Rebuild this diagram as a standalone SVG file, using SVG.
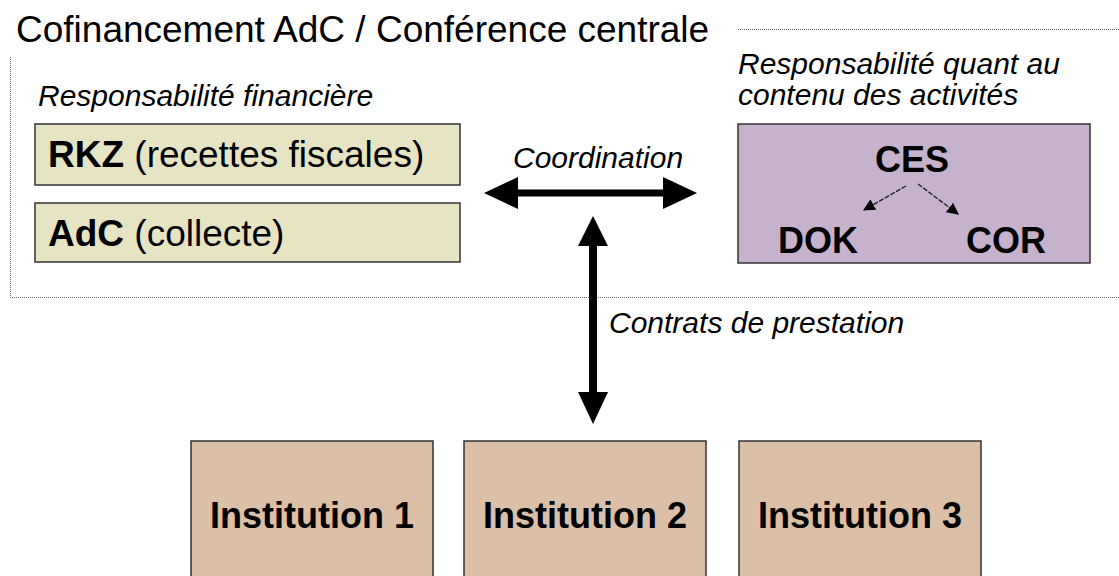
<svg xmlns="http://www.w3.org/2000/svg" width="1119" height="576" viewBox="0 0 1119 576">
  <style>
    .dot { fill: none; stroke: #666; stroke-width: 1; stroke-dasharray: 1 1; }
    .lbl { font-family: "Liberation Sans", Arial, sans-serif; fill: #000; }
    .it { font-style: italic; font-size: 30px; }
    .fin { fill: #e7e4c4; stroke: #333; stroke-width: 1.5; }
    .pur { fill: #c6b2cd; stroke: #333; stroke-width: 1.5; }
    .ins { fill: #dbbfa6; stroke: #333; stroke-width: 1.5; }
    .big { font-size: 37px; }
    .bold { font-weight: bold; }
    .thin { stroke: #222; stroke-width: 1.4; stroke-dasharray: 5 1.5; fill: none; }
  </style>
  <defs>
    <marker id="tri" viewBox="0 0 10 10" refX="9" refY="5" markerWidth="12" markerHeight="12" markerUnits="userSpaceOnUse" orient="auto">
      <path d="M0,0 L10,5 L0,10 Z" fill="#000"/>
    </marker>
  </defs>

  <g id="frame">
    <text class="lbl" x="16" y="42" font-size="37">Cofinancement AdC / Conférence centrale</text>
    <path class="dot" d="M738,29.5 H1119 M10.5,57 V297.5 H1119"/>
  </g>

  <g id="label-financiere">
    <text class="lbl it" x="38" y="106">Responsabilité financière</text>
  </g>
  <g id="label-contenu">
    <text class="lbl it" x="738" y="74">Responsabilité quant au</text>
    <text class="lbl it" x="738" y="105">contenu des activités</text>
  </g>

  <g id="node-rkz">
    <rect class="fin" x="35" y="124" width="425" height="61"/>
    <text class="lbl big" x="48" y="167"><tspan class="bold">RKZ</tspan> (recettes fiscales)</text>
  </g>
  <g id="node-adc">
    <rect class="fin" x="35" y="203" width="425" height="59"/>
    <text class="lbl big" x="48" y="246"><tspan class="bold">AdC</tspan> (collecte)</text>
  </g>

  <g id="node-ces-box">
    <rect class="pur" x="738" y="124" width="352" height="139"/>
    <text class="lbl bold" x="912" y="172" font-size="36" text-anchor="middle">CES</text>
    <text class="lbl bold" x="818" y="253" font-size="36" text-anchor="middle">DOK</text>
    <text class="lbl bold" x="1006" y="253" font-size="36" text-anchor="middle">COR</text>
    <line class="thin" x1="906" y1="186" x2="864" y2="210" marker-end="url(#tri)"/>
    <line class="thin" x1="918" y1="184" x2="958" y2="214" marker-end="url(#tri)"/>
  </g>

  <g id="node-inst1">
    <rect class="ins" x="191" y="441" width="242" height="145"/>
    <text class="lbl bold" x="312" y="528" font-size="36" text-anchor="middle">Institution 1</text>
  </g>
  <g id="node-inst2">
    <rect class="ins" x="464" y="441" width="242" height="145"/>
    <text class="lbl bold" x="585" y="528" font-size="36" text-anchor="middle">Institution 2</text>
  </g>
  <g id="node-inst3">
    <rect class="ins" x="739" y="441" width="242" height="145"/>
    <text class="lbl bold" x="860" y="528" font-size="36" text-anchor="middle">Institution 3</text>
  </g>

  <g id="connectors">
    <text class="lbl it" x="513" y="168">Coordination</text>
    <rect x="516" y="189.5" width="149" height="7" fill="#000"/>
    <polygon points="484,193 518,177 518,209" fill="#000"/>
    <polygon points="697,193 663,177 663,209" fill="#000"/>
    <rect x="589" y="244" width="8" height="150" fill="#000"/>
    <polygon points="593,216 578,246 608,246" fill="#000"/>
    <polygon points="593,424 578,392 608,392" fill="#000"/>
    <text class="lbl it" x="609" y="333">Contrats de prestation</text>
  </g>
</svg>
